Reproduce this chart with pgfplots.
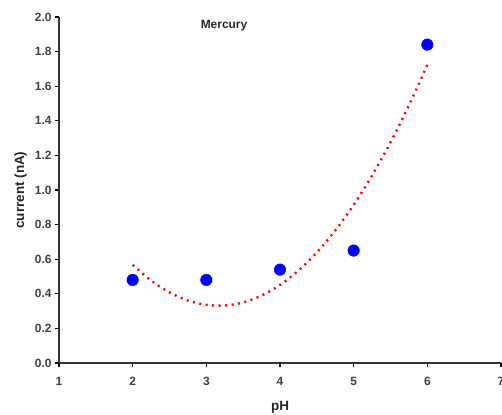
\documentclass[border=0pt]{standalone}
\usepackage{pgfplots}
\pgfplotsset{compat=1.18}
\usepackage{fontspec}
\setmainfont{Liberation Sans}
\begin{document}
\begin{tikzpicture}[x=1bp,y=1bp]
\begin{axis}[
  at={(0bp,0bp)}, anchor=south west,
  scale only axis, width=442bp, height=346bp,
  xmin=1, xmax=7, ymin=0, ymax=2,
  axis x line=bottom, axis y line=left,
  axis line style={-, line width=1.6bp, draw=black!80},
  xtick={1,2,3,4,5,6,7},
  ytick={0,0.2,0.4,0.6,0.8,1.0,1.2,1.4,1.6,1.8,2.0},
  yticklabel style={/pgf/number format/.cd, fixed, fixed zerofill, precision=1},
  /pgf/number format/assume math mode=true,
  tick style={black, line width=1.2bp},
  tick align=outside, major tick length=4bp,
  ticklabel style={font=\fontsize{12}{13}\selectfont\bfseries, text=black!75},
  xticklabel style={yshift=-7bp},
  xlabel={\textbf{pH}}, ylabel={\textbf{current (nA)}},
  label style={font=\fontsize{13.5}{15}\selectfont, text=black!85},
  xlabel style={at={(axis description cs:0.5,-0.128)}, anchor=center},
  ylabel style={at={(axis description cs:-0.087,0.5)}, anchor=center},
  clip=false,
]
\addplot[only marks, mark=*, mark size=5.8bp, blue, mark options={fill=blue, draw=blue}]
  coordinates {(2,0.48) (3,0.48) (4,0.54) (5,0.65) (6,1.84)};
\addplot[red, line width=2.4bp, dash pattern=on 2bp off 4.5bp, smooth]
  coordinates {
  (2.00,0.567) (2.25,0.477) (2.50,0.408) (2.75,0.361) (3.00,0.336)
  (3.25,0.332) (3.50,0.350) (3.75,0.390) (4.00,0.451) (4.25,0.534)
  (4.50,0.639) (4.75,0.766) (5.00,0.914) (5.25,1.084) (5.50,1.275)
  (5.75,1.489) (6.00,1.723)};
\node[font=\fontsize{12}{13}\selectfont\bfseries, text=black!85] at (axis cs:3.24,1.95) {Mercury};
\end{axis}
\pgfresetboundingbox
\path[use as bounding box] (-59bp,-52bp) rectangle (443bp,363bp);
\end{tikzpicture}
\end{document}
